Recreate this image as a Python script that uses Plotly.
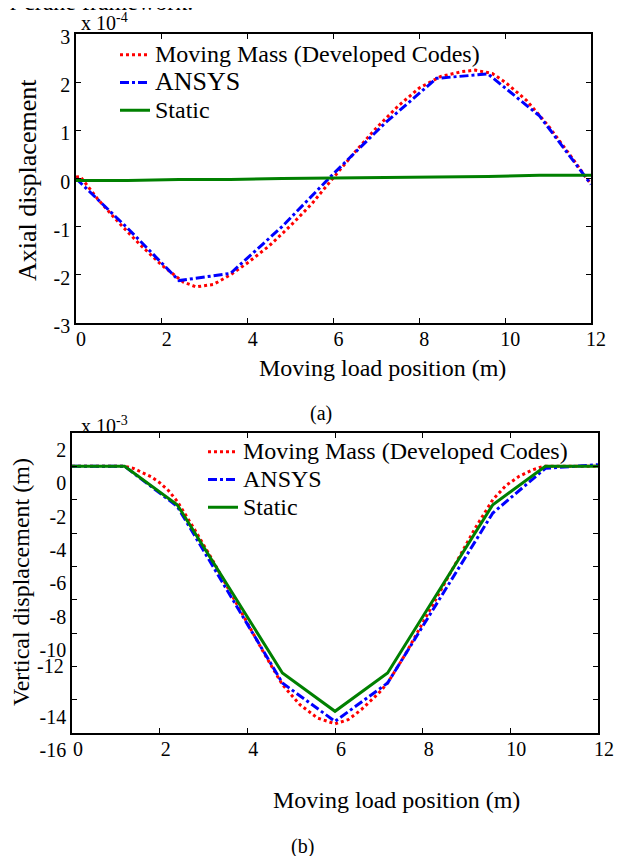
import plotly.graph_objects as go

W, H = 622, 856
OFF = 8  # page body margin the browser adds around the figure
FONT = 'Liberation Serif, "Times New Roman", serif'

# ---- (a) axial displacement, values in units of 1e-4 ----
pos_smooth_a = [0, 0.1, 0.5, 1.0, 1.5, 2.0, 2.5, 2.8, 3.2, 3.6, 4.0, 4.5, 5.0, 5.5, 6.0,
                6.5, 7.0, 7.5, 8.0, 8.5, 9.0, 9.3, 9.7, 10.0, 10.5, 11.0, 11.5, 12.0]
axial_moving_mass = [0.03, 0.04, -0.42, -0.92, -1.38, -1.8, -2.15, -2.25, -2.2, -2.0, -1.75,
                     -1.4, -0.98, -0.52, 0.02, 0.55, 1.05, 1.5, 1.88, 2.12, 2.22, 2.25, 2.18,
                     2.0, 1.62, 1.1, 0.5, -0.12]
pos_nodes = [0, 1.2, 2.4, 3.6, 4.8, 6.0, 7.2, 8.4, 9.6, 10.8, 12.0]
axial_ansys = [0.0, -1.03, -2.12, -1.97, -1.0, 0.1, 1.15, 2.08, 2.17, 1.3, -0.12]
axial_static = [-0.04, -0.04, -0.02, -0.02, 0.0, 0.01, 0.01, 0.03, 0.04, 0.07, 0.07]

# ---- (b) vertical displacement, values in units of 1e-3 ----
pos_smooth_b = [0, 1.2, 1.4, 1.6, 1.8, 2.0, 2.2, 2.4, 2.8, 3.2, 3.6, 4.0, 4.4, 4.8, 5.2, 5.6,
                6.0, 6.3, 6.6, 7.0, 7.2, 7.6, 8.0, 8.4, 8.8, 9.2, 9.6, 9.9, 10.2, 10.5, 10.75, 12.0]
vert_moving_mass = [0.0, 0.0, -0.12, -0.35, -0.62, -0.98, -1.45, -2.1, -3.8, -5.6, -7.5, -9.4,
                    -11.3, -13.1, -14.3, -15.1, -15.45, -15.2, -14.6, -13.6, -13.0, -11.3, -9.4,
                    -7.5, -5.6, -3.7, -2.0, -1.15, -0.6, -0.22, 0.0, 0.0]
vert_ansys = [0.0, 0.0, -2.4, -7.7, -13.0, -15.3, -13.0, -7.9, -2.8, -0.12, 0.1]
vert_static = [0.0, 0.0, -2.3, -7.35, -12.4, -14.7, -12.4, -7.35, -2.3, 0.0, 0.0]

x_ticks = [0, 2, 4, 6, 8, 10, 12]
a_yticks = [-3, -2, -1, 0, 1, 2, 3]
b_yticks = [2, 0, -2, -4, -6, -8, -10, -12, -14, -16]

RED, BLUE, GREEN = '#ff0000', '#0000ff', '#008000'


def px(x, y):
    # screen pixel -> paper fraction
    return (x - OFF) / W, 1 - (y - OFF) / H


def big(name, size=24):
    return f'<span style="font-size:{size}px">{name}</span>'


fig = go.Figure()

# panel (a)
fig.add_trace(go.Scatter(x=pos_smooth_a, y=axial_moving_mass, mode='lines',
                         name=big('Moving Mass (Developed Codes)'),
                         line=dict(color=RED, dash='dot', width=3), legend='legend', xaxis='x', yaxis='y'))
fig.add_trace(go.Scatter(x=pos_nodes, y=axial_ansys, mode='lines', name=big('ANSYS', 26),
                         line=dict(color=BLUE, dash='dashdot', width=3), legend='legend', xaxis='x', yaxis='y'))
fig.add_trace(go.Scatter(x=pos_nodes, y=axial_static, mode='lines', name=big('Static'),
                         line=dict(color=GREEN, width=3), legend='legend', xaxis='x', yaxis='y'))

# panel (b)
fig.add_trace(go.Scatter(x=pos_smooth_b, y=vert_moving_mass, mode='lines',
                         name=big('Moving Mass (Developed Codes)'),
                         line=dict(color=RED, dash='dot', width=3), legend='legend2', xaxis='x2', yaxis='y2'))
fig.add_trace(go.Scatter(x=pos_nodes, y=vert_ansys, mode='lines', name=big('ANSYS'),
                         line=dict(color=BLUE, dash='dashdot', width=3), legend='legend2', xaxis='x2', yaxis='y2'))
fig.add_trace(go.Scatter(x=pos_nodes, y=vert_static, mode='lines', name=big('Static'),
                         line=dict(color=GREEN, width=3), legend='legend2', xaxis='x2', yaxis='y2'))

axis_common = dict(showline=True, linecolor='black', linewidth=1.5, mirror='ticks', ticks='inside',
                   ticklen=5, tickcolor='black', showgrid=False, zeroline=False,
                   tickfont=dict(family=FONT, size=20, color='black'))

a_x0, a_y0 = px(76, 323)
a_x1, a_y1 = px(591, 34)
b_x0, b_y0 = px(72, 733)
b_x1, b_y1 = px(598, 433)

fig.update_layout(
    width=W, height=H, template='none',
    paper_bgcolor='white', plot_bgcolor='white',
    margin=dict(l=0, r=0, t=0, b=0),
    font=dict(family=FONT, color='black'),
    xaxis=dict(axis_common, domain=[a_x0, a_x1], anchor='y', range=[0, 12],
               tickvals=x_ticks, ticktext=[str(t) for t in x_ticks],
               ticklabelshift=5, ticklabelstandoff=-3),
    yaxis=dict(axis_common, domain=[a_y0, a_y1], anchor='x', range=[-3, 3],
               tickvals=a_yticks, ticktext=[str(t) for t in a_yticks], ticklabelshift=3),
    xaxis2=dict(axis_common, domain=[b_x0, b_x1], anchor='y2', range=[0, 12],
                tickvals=x_ticks, ticktext=[str(t) for t in x_ticks],
                ticklabelshift=6, ticklabelstandoff=-3),
    yaxis2=dict(axis_common, domain=[b_y0, b_y1], anchor='x2', range=[-16, 2],
                tickvals=b_yticks, ticktext=['' if t == -12 else str(t) for t in b_yticks],
                ticklabelshift=17),
    legend=dict(x=px(115, 0)[0], y=px(0, 36)[1], xanchor='left', yanchor='top',
                bgcolor='rgba(0,0,0,0)', font=dict(family=FONT, size=19, color='black')),
    legend2=dict(x=px(203, 0)[0], y=px(0, 433)[1], xanchor='left', yanchor='top',
                 bgcolor='rgba(0,0,0,0)', font=dict(family=FONT, size=19, color='black')),
)

notes = [
    # text, x px, y px, size, xanchor, yanchor, angle
    ('r crane framework.', 8, 17, 24, 'left', 'bottom', 0),
    ('x 10<sup>-4</sup>', 79, 22, 20, 'left', 'middle', 0),
    ('Axial displacement', 28, 180, 26, 'center', 'middle', -90),
    ('Moving load position (m)', 382, 368, 24, 'center', 'middle', 0),
    ('(a)', 321, 413, 20, 'center', 'middle', 0),
    ('x 10<sup>-3</sup>', 79, 425, 20, 'left', 'middle', 0),
    ('Vertical displacement (m)', 21, 582, 24, 'center', 'middle', -90),
    ('Moving load position (m)', 396, 800, 24, 'center', 'middle', 0),
    ('(b)', 302, 846, 20, 'center', 'middle', 0),
]
for text, xp, yp, size, xa, ya, ang in notes:
    fx, fy = px(xp, yp)
    fig.add_annotation(text=text, x=fx, y=fy, xref='paper', yref='paper', showarrow=False,
                       xanchor=xa, yanchor=ya, textangle=ang,
                       font=dict(family=FONT, size=size, color='black'))

# the stray "-12" label sits on its own tick in the original
fig.add_annotation(text='-12', x=px(66, 0)[0], y=-12, xref='paper', yref='y2', showarrow=False,
                   xanchor='right', yanchor='middle', font=dict(family=FONT, size=20, color='black'))

fig.write_html('out.html')
